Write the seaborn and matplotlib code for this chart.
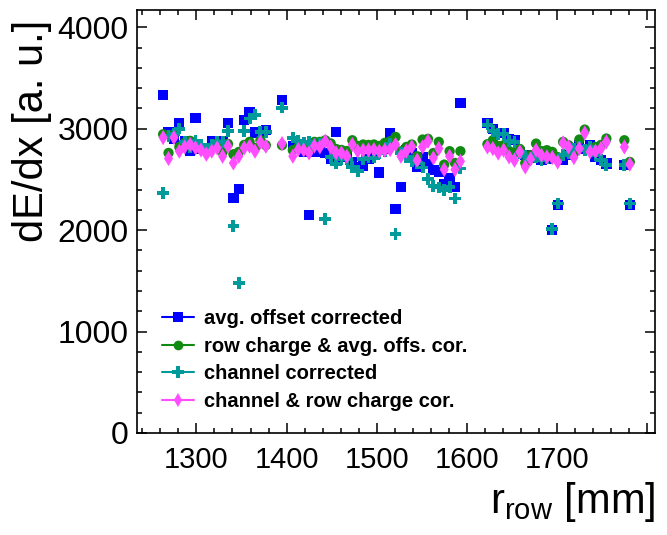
import numpy as np
import pandas as pd
import matplotlib
matplotlib.use("Agg")
import matplotlib.pyplot as plt
from matplotlib.lines import Line2D
from matplotlib.ticker import MultipleLocator, FuncFormatter
import seaborn as sns

# ---- data ----
r_row = [1263, 1269, 1275, 1281, 1287, 1293, 1299, 1305, 1311, 1317,
         1323, 1329, 1335, 1341, 1347, 1353, 1359, 1365, 1371, 1377,
         1395, 1407, 1413, 1419, 1425, 1431, 1437, 1443, 1449, 1455,
         1461, 1467, 1473, 1479, 1485, 1491, 1497, 1503, 1509, 1515,
         1521, 1527, 1533, 1539, 1545, 1551, 1557, 1563, 1569, 1575,
         1581, 1587, 1593,
         1623, 1629, 1635, 1641, 1647, 1653, 1659, 1665, 1671, 1677,
         1683, 1689, 1695, 1701, 1707, 1713, 1719, 1725, 1731, 1737,
         1743, 1749, 1755, 1775, 1781]

avg_offset = [3329, 2968, 2900, 3050, 2880, 2778, 3106, 2800, 2788, 2876,
              2860, 2876, 3056, 2315, 2403, 3083, 3159, 2962, 2960, 2985,
              3280, 2827, 2850, 2771, 2147, 2771, 2771, 2761, 2699, 2965,
              2720, 2761, 2666, 2623, 2633, 2700, 2750, 2568, 2800, 2955,
              2206, 2426, 2790, 2761, 2623, 2715, 2650, 2590, 2574, 2450,
              2509, 2426, 3250,
              3056, 2994, 2960, 2958, 2900, 2886, 2771, 2740, 2715, 2712,
              2689, 2705, 2000, 2246, 2689, 2740, 2788, 2837, 2800, 2837,
              2722, 2689, 2656, 2640, 2246]

row_charge = [2945, 2761, 2945, 2820, 2860, 2880, 2830, 2800, 2780, 2810,
              2853, 2770, 2850, 2748, 2771, 2840, 2870, 2810, 2886, 2837,
              2837, 2788, 2820, 2830, 2804, 2870, 2870, 2886, 2855, 2800,
              2790, 2780, 2886, 2830, 2844, 2840, 2844, 2830, 2860, 2876,
              2919, 2778, 2820, 2844, 2728, 2893, 2900, 2760, 2870, 2646,
              2778, 2662, 2778,
              2847, 2886, 2830, 2837, 2780, 2760, 2800, 2662, 2740, 2853,
              2780, 2788, 2771, 2720, 2870, 2837, 2760, 2893, 2991, 2800,
              2820, 2840, 2903, 2886, 2672]

channel = [2364, 2925, 2945, 3000, 2870, 2820, 2880, 2840, 2800, 2840,
           2870, 2870, 2978, 2039, 1477, 2978, 3100, 3139, 2968, 2968,
           3208, 2912, 2880, 2860, 2870, 2850, 2850, 2108, 2720, 2656,
           2700, 2700, 2620, 2584, 2699, 2715, 2715, 2760, 2780, 2850,
           1960, 2760, 2720, 2682, 2659, 2617, 2502, 2433, 2420, 2394,
           2426, 2312, 2607,
           3040, 2978, 2950, 2945, 2880, 2866, 2755, 2730, 2715, 2720,
           2689, 2705, 2010, 2262, 2738, 2760, 2804, 2820, 2790, 2820,
           2740, 2689, 2640, 2640, 2262]

channel_row = [2912, 2706, 2912, 2778, 2820, 2844, 2810, 2790, 2748, 2778,
               2810, 2728, 2827, 2662, 2728, 2810, 2827, 2778, 2866, 2827,
               2853, 2728, 2794, 2790, 2761, 2830, 2820, 2876, 2820, 2761,
               2760, 2728, 2844, 2778, 2788, 2790, 2794, 2778, 2788, 2794,
               2844, 2728, 2780, 2820, 2689, 2820, 2876, 2712, 2804, 2597,
               2728, 2597, 2679,
               2820, 2804, 2760, 2788, 2722, 2689, 2771, 2623, 2699, 2788,
               2738, 2722, 2715, 2672, 2860, 2820, 2715, 2804, 2958, 2771,
               2778, 2804, 2870, 2820, 2650]

x_tick_labels = ["1300", "1400", "1500", "1600", "1700"]

labels = ["avg. offset corrected",
          "row charge & avg. offs. cor.",
          "channel corrected",
          "channel & row charge cor."]
colors = ["#0000ff", "#118a11", "#009a9a", "#ff4dff"]
markers = ["s", "o", "P", "d"]
sizes = [55, 55, 70, 60]

df = pd.DataFrame({
    "r": r_row * 4,
    "dedx": avg_offset + row_charge + channel + channel_row,
    "series": sum([[lab] * len(r_row) for lab in labels], []),
})

sns.set_theme(style="ticks")
plt.rcParams["font.family"] = ["Liberation Sans", "DejaVu Sans"]
plt.rcParams["mathtext.fontset"] = "custom"
plt.rcParams["mathtext.rm"] = "Liberation Sans"
plt.rcParams["mathtext.it"] = "Liberation Sans"
plt.rcParams["text.color"] = "black"
plt.rcParams["axes.labelcolor"] = "black"
plt.rcParams["xtick.color"] = "black"
plt.rcParams["ytick.color"] = "black"

fig = plt.figure(figsize=(6.67, 5.35), dpi=100)
ax = fig.add_axes([137 / 667, 1 - 433 / 535, (655 - 137) / 667, (433 - 10) / 535])

for lab, c, m, s in zip(labels, colors, markers, sizes):
    sub = df[df["series"] == lab]
    sns.scatterplot(data=sub, x="r", y="dedx", ax=ax, color=c, marker=m,
                    s=s, linewidth=0, edgecolor="none", legend=False)

ax.set_xlim(1234, 1809)
ax.set_ylim(0, 4170)
ax.xaxis.set_major_locator(MultipleLocator(100))
ax.xaxis.set_minor_locator(MultipleLocator(20))
ax.xaxis.set_major_formatter(FuncFormatter(
    lambda v, p: f"{int(round(v))}" if f"{int(round(v))}" in x_tick_labels else ""))
ax.yaxis.set_major_locator(MultipleLocator(1000))
ax.yaxis.set_minor_locator(MultipleLocator(200))
ax.tick_params(which="both", direction="in", top=True, right=True,
               width=1.1, colors="black")
ax.tick_params(axis="x", labelsize=21, pad=9)
ax.tick_params(axis="y", labelsize=23, pad=6)
ax.tick_params(which="major", length=7)
ax.tick_params(which="minor", length=3.5)
for sp in ax.spines.values():
    sp.set_linewidth(1.2)
    sp.set_color("black")

ax.set_xlabel(r"r$_{\rm row}$ [mm]", fontsize=30, loc="right", labelpad=5,
              color="black")
ax.set_ylabel("dE/dx [a. u.]", fontsize=30, loc="top", color="black")
ax.yaxis.set_label_coords(-0.165, 1 - 10 / 423)

handles = [Line2D([0], [0], color=c, marker=m, markersize=ms, lw=1.5,
                  markeredgewidth=0)
           for c, m, ms in zip(colors, markers, [7, 7, 8, 7])]
leg = ax.legend(handles, labels, loc="lower left", bbox_to_anchor=(0.025, 0.024),
                frameon=False, prop={"size": 14.5, "weight": "bold"},
                handlelength=1.6, handletextpad=0.5, labelspacing=0.42,
                borderaxespad=0.2)
for t in leg.get_texts():
    t.set_color("black")

fig.savefig("out.png", dpi=100)
